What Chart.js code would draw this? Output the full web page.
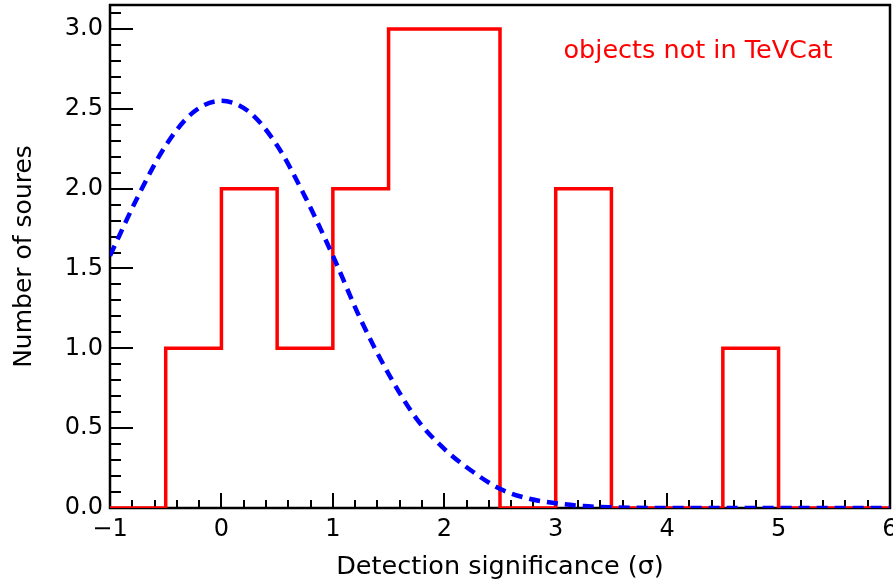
<!DOCTYPE html>
<html>
<head>
<meta charset="utf-8">
<script src="https://cdn.jsdelivr.net/npm/chart.js@4.4.1/dist/chart.umd.min.js"></script>
<style>
  html, body { margin: 0; padding: 0; background: #fff; }
</style>
</head>
<body>
<canvas id="chart" width="893" height="583"></canvas>
<script>
// histogram bins (width 0.5) and counts
const binEdges = [-1, -0.5, 0, 0.5, 1, 1.5, 2, 2.5, 3, 3.5, 4, 4.5, 5, 5.5, 6];
const binCounts = [0, 1, 2, 1, 2, 3, 3, 0, 2, 0, 0, 1, 0, 0];

// expected curve
const curveX = [-1, -0.75, -0.5, -0.25, 0, 0.25, 0.5, 0.75, 1, 1.25, 1.5, 1.75, 2, 2.25, 2.5, 2.75, 3, 3.25, 3.5, 4, 4.5, 5, 5.5, 6];
const curveY = [1.58, 1.95, 2.27, 2.48, 2.55, 2.48, 2.27, 1.95, 1.58, 1.18, 0.84, 0.56, 0.37, 0.23, 0.12, 0.06, 0.03, 0.012, 0.005, 0, 0, 0, 0, 0];

const xTicks = [-1, 0, 1, 2, 3, 4, 5, 6];
const yTicks = [0, 0.5, 1, 1.5, 2, 2.5, 3];
const xTitle = 'Detection significance (\u03c3)';
const yTitle = 'Number of soures';
const noteText = 'objects not in TeVCat';

const FONT = 'DejaVu Sans';
Chart.defaults.font.family = FONT;
Chart.defaults.color = '#000';

// bin i runs from edge i to edge i+1 at height binCounts[i]; last edge closes the outline
const histPoints = binEdges.map((e, i) => ({ x: e, y: i < binCounts.length ? binCounts[i] : 0 }));
const curvePoints = curveX.map((x, i) => ({ x, y: curveY[i] }));

// ROOT style frame with ticks on the inside
const rootFrame = {
  id: 'rootFrame',
  beforeDatasetsDraw(chart) {
    const { ctx, chartArea: a, scales: { x, y } } = chart;
    ctx.save();
    ctx.strokeStyle = '#000';
    ctx.lineWidth = 2;
    ctx.beginPath();
    for (let i = 0; i <= 35; i++) {
      const px = Math.round(x.getPixelForValue(-1 + i * 0.2));
      const len = i % 5 === 0 ? 15 : 8;
      ctx.moveTo(px, a.bottom);
      ctx.lineTo(px, a.bottom - len);
    }
    for (let i = 0; i <= 31; i++) {
      const py = Math.round(y.getPixelForValue(i * 0.1));
      const len = i % 5 === 0 ? 23 : 11;
      ctx.moveTo(a.left, py);
      ctx.lineTo(a.left + len, py);
    }
    ctx.stroke();
    ctx.lineWidth = 2.5;
    ctx.strokeRect(a.left, a.top, a.right - a.left, a.bottom - a.top);
    ctx.restore();
  },
  afterDatasetsDraw(chart) {
    const { ctx, scales: { x, y } } = chart;
    ctx.save();
    ctx.fillStyle = '#ff0000';
    ctx.font = '25.5px "' + FONT + '"';
    ctx.textBaseline = 'alphabetic';
    ctx.fillText(noteText, x.getPixelForValue(3.07), y.getPixelForValue(2.82));
    ctx.restore();
  }
};

new Chart(document.getElementById('chart'), {
  type: 'line',
  data: {
    datasets: [
      {
        label: 'expected',
        data: curvePoints,
        borderColor: '#0000ff',
        borderWidth: 4.5,
        borderDash: [11, 7],
        pointRadius: 0,
        cubicInterpolationMode: 'monotone',
        fill: false,
        order: 0,
      },
      {
        label: 'objects not in TeVCat',
        data: histPoints,
        borderColor: '#ff0000',
        borderWidth: 3.5,
        stepped: 'before',
        pointRadius: 0,
        fill: false,
        order: 1,
      },
    ],
  },
  options: {
    responsive: false,
    animation: false,
    devicePixelRatio: 1,
    layout: { padding: { top: 5, right: 3, left: 0, bottom: 0 } },
    plugins: {
      legend: { display: false },
      tooltip: { enabled: false },
    },
    scales: {
      x: {
        type: 'linear',
        min: -1,
        max: 6,
        grid: { display: false, drawTicks: false },
        border: { display: false },
        afterBuildTicks: (s) => { s.ticks = xTicks.map((v) => ({ value: v })); },
        afterFit: (s) => { s.height = 75; s.paddingLeft = 0; s.paddingRight = 0; },
        ticks: {
          font: { size: 24 },
          padding: 7,
          maxRotation: 0,
          autoSkip: false,
          callback: (v) => (v < 0 ? '\u2212' + Math.abs(v) : String(v)),
        },
        title: {
          display: true,
          text: xTitle,
          font: { size: 25.5 },
          padding: { top: 0, bottom: 0 },
        },
      },
      y: {
        type: 'linear',
        min: 0,
        max: 3.15,
        grid: { display: false, drawTicks: false },
        border: { display: false },
        afterBuildTicks: (s) => { s.ticks = yTicks.map((v) => ({ value: v })); },
        afterFit: (s) => { s.width = 110; s.paddingTop = 0; s.paddingBottom = 0; },
        ticks: {
          font: { size: 24 },
          padding: 7,
          autoSkip: false,
          callback: (v) => Number(v).toFixed(1),
        },
        title: {
          display: true,
          text: yTitle,
          font: { size: 25 },
          padding: { top: 9, bottom: 0 },
        },
      },
    },
  },
  plugins: [rootFrame],
});
</script>
</body>
</html>
